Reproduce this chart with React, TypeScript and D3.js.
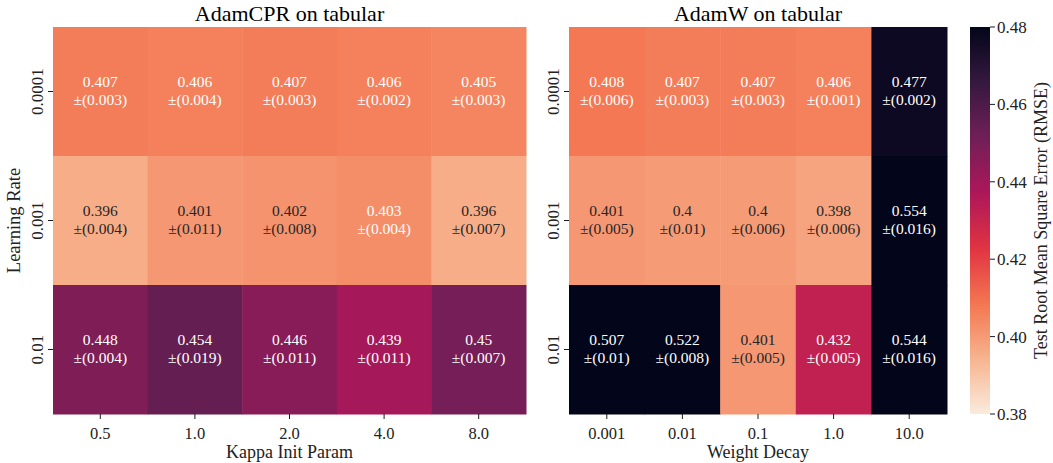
import React from "react";
import * as d3 from "d3";

const lrLabels = ["0.0001", "0.001", "0.01"];
const kappaLabels = ["0.5", "1.0", "2.0", "4.0", "8.0"];
const wdLabels = ["0.001", "0.01", "0.1", "1.0", "10.0"];

const cprMean = [
  [0.407, 0.406, 0.407, 0.406, 0.405],
  [0.396, 0.401, 0.402, 0.403, 0.396],
  [0.448, 0.454, 0.446, 0.439, 0.45],
];
const cprStd = [
  [0.003, 0.004, 0.003, 0.002, 0.003],
  [0.004, 0.011, 0.008, 0.004, 0.007],
  [0.004, 0.019, 0.011, 0.011, 0.007],
];
const adamwMean = [
  [0.408, 0.407, 0.407, 0.406, 0.477],
  [0.401, 0.4, 0.4, 0.398, 0.554],
  [0.507, 0.522, 0.401, 0.432, 0.544],
];
const adamwStd = [
  [0.006, 0.003, 0.003, 0.001, 0.002],
  [0.005, 0.01, 0.006, 0.006, 0.016],
  [0.01, 0.008, 0.005, 0.005, 0.016],
];
const cbarTicks = [0.38, 0.4, 0.42, 0.44, 0.46, 0.48];

// seaborn "rocket", sampled at 0, 1/7 ... 1
const rocket = d3.piecewise(d3.interpolateRgb, [
  "#03051a", "#35193e", "#701f57", "#ad1759",
  "#e13342", "#f37651", "#f6b48f", "#faebdd",
]);
const VMIN = 0.38;
const VMAX = 0.48;
const cmap = (v: number) => {
  const t = Math.max(0, Math.min(1, (v - VMIN) / (VMAX - VMIN)));
  return rocket(1 - t);
};

// same rule as seaborn's annotation colour
function textColor(fill: string) {
  const c = d3.rgb(fill);
  const lin = (x: number) => {
    x /= 255;
    return x <= 0.03928 ? x / 12.92 : Math.pow((x + 0.055) / 1.055, 2.4);
  };
  const lum = 0.2126 * lin(c.r) + 0.7152 * lin(c.g) + 0.0722 * lin(c.b);
  return lum > 0.408 ? "#262626" : "#ffffff";
}

const FONT = "'Liberation Serif', 'Times New Roman', serif";
const TOP = 27;
const BOTTOM = 414;

type HMProps = {
  x0: number;
  x1: number;
  title: string;
  xLabels: string[];
  xTitle: string;
  mean: number[][];
  std: number[][];
  yTitle?: string;
};

function Heatmap({ x0, x1, title, xLabels, xTitle, mean, std, yTitle }: HMProps) {
  const x = d3.scaleBand().domain(xLabels).range([x0, x1]);
  const y = d3.scaleBand().domain(lrLabels).range([TOP, BOTTOM]);
  const cx = (x0 + x1) / 2;
  return (
    <g fontFamily={FONT}>
      {lrLabels.map((lr, i) =>
        xLabels.map((xl, j) => {
          const fill = cmap(mean[i][j]);
          const tc = textColor(fill);
          const mx = (x(xl) as number) + x.bandwidth() / 2;
          const my = (y(lr) as number) + y.bandwidth() / 2;
          return (
            <g key={lr + xl}>
              <rect
                x={x(xl)}
                y={y(lr)}
                width={x.bandwidth() + 0.5}
                height={y.bandwidth() + 0.5}
                fill={fill}
              />
              <text x={mx} y={my - 4.5} textAnchor="middle" fontSize={15.5} fill={tc}>
                {String(mean[i][j])}
              </text>
              <text x={mx} y={my + 13.5} textAnchor="middle" fontSize={15.5} fill={tc}>
                {"\u00b1(" + String(std[i][j]) + ")"}
              </text>
            </g>
          );
        })
      )}
      {/* title */}
      <text x={cx} y={21} textAnchor="middle" fontSize={22} fill="#000">
        {title}
      </text>
      {/* x axis */}
      {xLabels.map((xl) => {
        const tx = (x(xl) as number) + x.bandwidth() / 2;
        return (
          <g key={xl}>
            <line x1={tx} x2={tx} y1={BOTTOM} y2={BOTTOM + 5} stroke="#000" strokeWidth={0.9} />
            <text x={tx} y={439} textAnchor="middle" fontSize={16.5} fill="#222">
              {xl}
            </text>
          </g>
        );
      })}
      <text x={cx} y={458} textAnchor="middle" fontSize={18} fill="#222">
        {xTitle}
      </text>
      {/* y axis */}
      {lrLabels.map((lr) => {
        const ty = (y(lr) as number) + y.bandwidth() / 2;
        return (
          <g key={lr}>
            <line x1={x0 - 5} x2={x0} y1={ty} y2={ty} stroke="#000" strokeWidth={0.9} />
            <text
              transform={`translate(${x0 - 10},${ty}) rotate(-90)`}
              textAnchor="middle"
              fontSize={17}
              fill="#222"
            >
              {lr}
            </text>
          </g>
        );
      })}
      {yTitle && (
        <text
          transform={`translate(20,${(TOP + BOTTOM) / 2}) rotate(-90)`}
          textAnchor="middle"
          fontSize={18.5}
          fill="#222"
        >
          {yTitle}
        </text>
      )}
    </g>
  );
}

function Colorbar() {
  const cb0 = 970;
  const cb1 = 990;
  const y = d3.scaleLinear().domain([VMIN, VMAX]).range([BOTTOM, TOP]);
  const stops = d3.range(0, 41).map((i) => i / 40);
  return (
    <g fontFamily={FONT}>
      <defs>
        <linearGradient id="cbar" x1="0" y1="1" x2="0" y2="0">
          {stops.map((s) => (
            <stop key={s} offset={s} stopColor={cmap(VMIN + s * (VMAX - VMIN))} />
          ))}
        </linearGradient>
      </defs>
      <rect x={cb0} y={TOP} width={cb1 - cb0} height={BOTTOM - TOP} fill="url(#cbar)" />
      {cbarTicks.map((t) => (
        <g key={t}>
          <line x1={cb1} x2={cb1 + 5} y1={y(t)} y2={y(t)} stroke="#000" strokeWidth={0.9} />
          <text x={cb1 + 7} y={y(t)} dy="0.35em" fontSize={17} fill="#222">
            {t.toFixed(2)}
          </text>
        </g>
      ))}
      <text
        transform={`translate(1047,${(TOP + BOTTOM) / 2}) rotate(-90)`}
        textAnchor="middle"
        fontSize={18}
        fill="#222"
      >
        Test Root Mean Square Error (RMSE)
      </text>
    </g>
  );
}

export default function App() {
  return (
    <svg
      width={1053}
      height={463}
      style={{ position: "absolute", left: 0, top: 0, background: "#fff" }}
    >
      <Heatmap
        x0={53}
        x1={526}
        title="AdamCPR on tabular"
        xLabels={kappaLabels}
        xTitle="Kappa Init Param"
        mean={cprMean}
        std={cprStd}
        yTitle="Learning Rate"
      />
      <Heatmap
        x0={569}
        x1={947}
        title="AdamW on tabular"
        xLabels={wdLabels}
        xTitle="Weight Decay"
        mean={adamwMean}
        std={adamwStd}
      />
      <Colorbar />
    </svg>
  );
}
